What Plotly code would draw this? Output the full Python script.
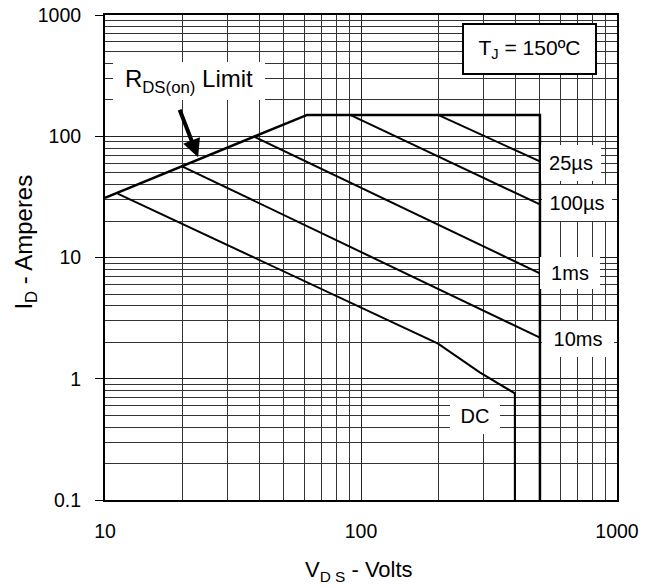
import math
import plotly.graph_objects as go

# ---- data ----
boundary_v = [10, 61.6, 500, 500]
boundary_a = [31, 150, 150, 0.1]
t25us_v = [200, 500]
t25us_a = [150, 62]
t100us_v = [90.7, 500]
t100us_a = [150, 27.4]
t1ms_v = [38, 500]
t1ms_a = [100, 7.4]
t10ms_v = [20, 500]
t10ms_a = [56.5, 2.18]
dc_v = [11.2, 200, 291, 399, 399]
dc_a = [33.6, 1.95, 1.13, 0.757, 0.1]

x_ticks = [10, 100, 1000]
x_ticktext = ["10", "100", "1000"]
y_ticks = [0.1, 1, 10, 100, 1000]
y_ticktext = ["0.1", "1", "10", "100", "1000"]
x_minor = [m * d for d in (10, 100) for m in range(2, 10)]
y_minor = [m * d for d in (0.1, 1, 10, 100) for m in range(2, 10)]

FONT = "Liberation Sans, Arial, sans-serif"
L = math.log10

fig = go.Figure()
series = [
    (boundary_v, boundary_a, 2.5),
    (t25us_v, t25us_a, 2),
    (t100us_v, t100us_a, 2),
    (t1ms_v, t1ms_a, 2),
    (t10ms_v, t10ms_a, 2),
    (dc_v, dc_a, 2),
]
for xs, ys, w in series:
    fig.add_trace(go.Scatter(x=xs, y=ys, mode="lines",
                             line=dict(color="black", width=w),
                             showlegend=False, hoverinfo="skip"))

def label(text, xv, yv, w, h, size=20, border=0):
    fig.add_annotation(x=L(xv), y=L(yv), xref="x", yref="y", text=text,
                       showarrow=False, xanchor="center", yanchor="middle",
                       width=w, height=h, bgcolor="white", borderpad=0,
                       bordercolor="black", borderwidth=border,
                       font=dict(family=FONT, size=size, color="black"))

label("25µs", 661, 59.8, 60, 36)
label("100µs", 697, 27.9, 70, 36)
label("1ms", 655, 7.4, 60, 32)
label("10ms", 703, 2.14, 72, 36)
label("DC", 278, 0.494, 50, 36)
label("R<sub>DS(on)</sub> Limit", 21.3, 285, 152, 38, size=24)
label("T<sub>J</sub> = 150ºC", 455, 524, 131, 48, size=21, border=2)

# arrow pointing at the R_DS(on) limit line
fig.add_annotation(x=L(23.1), y=L(67), xref="x", yref="y", text="",
                   showarrow=True, ax=-19, ay=-49, arrowhead=2,
                   arrowsize=0.9, arrowwidth=4, arrowcolor="black")

# axis titles
fig.add_annotation(x=0.496, y=-0.146, xref="paper", yref="paper",
                   text="V<sub>D S</sub> - Volts", showarrow=False,
                   xanchor="center", yanchor="middle",
                   font=dict(family=FONT, size=22, color="black"))
fig.add_annotation(x=-0.155, y=0.532, xref="paper", yref="paper",
                   text="I<sub>D</sub> - Amperes", showarrow=False,
                   textangle=-90, xanchor="center", yanchor="middle",
                   font=dict(family=FONT, size=24, color="black"))

fig.update_layout(
    width=659, height=588,
    margin=dict(l=105, r=42, t=15, b=88),
    plot_bgcolor="white", paper_bgcolor="white",
    font=dict(family=FONT, size=19.5, color="black"),
)
fig.update_xaxes(
    type="log", range=[1, 3], automargin=False, ticklabeloverflow="allow",
    tickvals=x_ticks, ticktext=x_ticktext,
    showgrid=True, gridcolor="#222", gridwidth=1,
    minor=dict(tickvals=x_minor, showgrid=True, gridcolor="#333", gridwidth=1),
    showline=True, linecolor="black", linewidth=2, mirror=True,
    ticks="", ticklabelstandoff=13, zeroline=False,
)
fig.update_yaxes(
    type="log", range=[-1, 3], automargin=False, ticklabeloverflow="allow",
    tickvals=y_ticks, ticktext=y_ticktext,
    showgrid=True, gridcolor="#222", gridwidth=1,
    minor=dict(tickvals=y_minor, showgrid=True, gridcolor="#333", gridwidth=1),
    showline=True, linecolor="black", linewidth=2, mirror=True,
    ticks="outside", ticklen=8, tickcolor="black", ticklabelstandoff=10,
    zeroline=False,
)

# remove the browser's default 8px page margin so the figure fills the window
fig.write_html("out.html", config={"displayModeBar": False},
               post_script="document.body.style.margin='0';")
